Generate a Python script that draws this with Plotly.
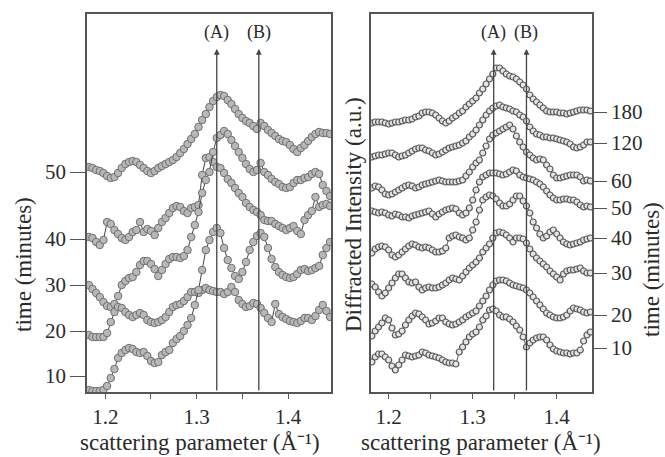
import plotly.graph_objects as go

# ---------------- data ----------------
# Left panel: scattering parameter grid (1/Å)
q_left = [round(1.182 + 0.004 * i, 3) for i in range(67)]
left_I50 = [22.5, 22.4, 22.2, 22.1, 21.9, 21.6, 21.4, 21.5, 21.9, 22.4, 22.8, 23.0, 23.1, 23.0, 22.7, 22.4, 22.1, 21.9, 22.1, 22.4,
            22.6, 22.8, 23.0, 23.2, 23.5, 23.9, 24.3, 24.8, 25.3, 25.8, 26.5, 27.2, 27.8, 28.5, 29.1, 29.5, 29.7, 29.6, 29.2, 28.8,
            28.3, 27.8, 27.4, 27.1, 26.9, 26.6, 26.3, 26.9, 26.6, 26.2, 25.9, 25.6, 25.3, 25.1, 25.0, 24.7, 24.3, 24.0, 24.4, 24.7,
            25.1, 25.5, 25.8, 26.0, 25.9, 25.9, 25.8]
left_I40 = [15.5, 15.4, 15.0, 14.7, 15.2, 17.0, 16.8, 16.2, 15.8, 15.4, 15.2, 15.5, 16.0, 16.2, 17.0, 16.0, 16.3, 16.1, 15.7, 16.4,
            17.0, 17.4, 17.9, 18.4, 18.6, 18.5, 18.1, 17.9, 18.4, 18.5, 18.7, 21.7, 23.4, 23.5, 23.0, 22.5, 22.4, 21.9, 21.3, 20.9,
            20.4, 19.9, 19.5, 18.9, 18.5, 18.2, 18.0, 17.7, 17.2, 17.1, 17.1, 16.8, 16.6, 16.4, 16.2, 16.4, 16.6, 16.1, 15.8, 17.2,
            17.7, 18.1, 19.5, 18.5, 18.7, 18.8, 18.6]
left_I30 = [10.7, 10.3, 9.9, 9.5, 9.0, 8.6, 8.5, 8.8, 9.6, 10.7, 11.1, 11.4, 11.5, 12.0, 12.7, 13.1, 13.1, 12.8, 12.3, 11.6,
            12.2, 12.8, 13.3, 13.5, 13.5, 13.4, 13.6, 14.2, 15.5, 16.7, 18.0, 19.9, 21.2, 22.0, 24.0, 25.4, 25.7, 26.1, 25.8, 25.2,
            24.6, 24.0, 23.4, 22.8, 22.3, 22.0, 22.2, 22.9, 22.0, 21.7, 21.3, 21.0, 20.8, 20.5, 20.4, 20.5, 20.9, 21.2, 21.2, 21.4,
            21.5, 21.8, 22.0, 21.8, 20.7, 20.1, 19.6]
left_I20 = [5.7, 5.5, 5.5, 5.5, 5.5, 5.9, 7.0, 8.0, 8.5, 8.4, 8.0, 7.7, 7.5, 7.7, 7.9, 7.7, 7.2, 7.0, 6.9, 7.0,
            7.2, 7.5, 8.0, 8.5, 8.7, 8.8, 9.1, 9.5, 10.0, 10.0, 9.9, 10.2, 10.4, 10.2, 10.1, 10.0, 10.0, 9.8, 10.0, 10.5,
            10.0, 9.2, 8.8, 8.5, 8.6, 8.9, 8.8, 8.4, 7.9, 7.4, 7.0, 8.8, 7.8, 7.5, 7.3, 7.1, 7.0, 6.9, 7.1, 7.4,
            7.4, 7.2, 7.6, 8.2, 8.7, 8.1, 7.5]
left_I10 = [0.2, 0.1, 0.1, 0.1, 0.2, 0.6, 1.4, 2.3, 3.4, 3.9, 4.2, 4.4, 4.3, 4.0, 3.9, 4.0, 3.6, 3.1, 2.9, 3.0,
            3.7, 4.0, 4.2, 4.9, 5.3, 5.6, 6.1, 6.7, 7.4, 8.7, 10.2, 12.2, 14.2, 15.2, 16.0, 16.4, 15.9, 14.4, 13.2, 12.4,
            11.6, 11.3, 12.0, 13.0, 14.2, 15.0, 15.6, 15.9, 15.5, 14.4, 13.3, 12.5, 12.0, 11.7, 11.5, 11.4, 11.5, 11.8, 12.2, 12.3,
            12.1, 12.2, 12.4, 12.6, 13.7, 14.4, 15.0]
left_tick_pos = [1.6, 6.1, 10.7, 15.3, 22.0]
left_tick_text = ["10", "20", "30", "40", "50"]
left_peaks = {"(A)": 1.322, "(B)": 1.368}

# Right panel
q_right = [round(1.180 + 0.004 * i, 3) for i in range(66)]
right_I180 = [26.9, 27.0, 27.0, 27.0, 26.9, 26.8, 26.9, 27.0, 27.0, 27.1, 27.2, 27.2, 27.3, 27.5, 27.6, 27.9, 28.0, 28.0, 27.9, 27.7,
              27.4, 27.1, 26.9, 27.1, 27.4, 27.6, 27.9, 28.1, 28.5, 28.8, 29.1, 29.4, 29.9, 30.3, 30.8, 31.3, 31.8, 32.4, 32.4, 32.1,
              31.8, 31.6, 31.5, 31.3, 31.0, 30.7, 30.3, 29.7, 29.3, 29.0, 28.7, 28.4, 28.1, 28.0, 28.0, 28.0, 27.9, 27.9, 27.8, 27.9,
              28.0, 28.1, 28.2, 28.2, 28.2, 28.1]
right_I120 = [23.5, 23.6, 23.7, 23.7, 23.8, 23.9, 23.9, 23.7, 23.5, 23.6, 23.7, 23.9, 24.1, 24.3, 24.4, 24.4, 24.2, 24.1, 23.9, 23.7,
              23.8, 24.0, 24.2, 24.4, 24.5, 24.6, 24.7, 24.9, 25.1, 25.5, 25.8, 26.2, 26.7, 27.2, 27.7, 28.1, 28.4, 28.6, 28.7, 28.5,
              28.4, 28.3, 28.1, 28.0, 27.7, 27.5, 27.1, 26.5, 26.1, 25.8, 25.7, 25.5, 25.5, 25.4, 25.4, 25.3, 25.2, 25.1, 25.0, 24.8,
              24.5, 24.4, 24.5, 24.7, 25.0, 25.0]
right_I60 = [20.4, 20.6, 20.5, 20.2, 19.8, 19.7, 19.8, 20.0, 20.2, 20.4, 20.6, 20.7, 20.6, 20.4, 20.5, 20.7, 20.8, 20.9, 21.0, 21.1,
             21.2, 21.1, 21.0, 21.0, 21.0, 21.0, 21.1, 21.2, 21.6, 22.0, 22.5, 22.9, 23.2, 23.9, 24.6, 25.3, 25.7, 25.9, 26.1, 26.3,
             26.5, 26.7, 26.3, 25.6, 25.0, 24.5, 24.0, 23.7, 23.4, 23.2, 23.3, 23.2, 22.7, 22.3, 21.7, 21.4, 21.4, 21.5, 21.6, 21.7,
             21.7, 21.7, 21.5, 21.1, 21.2, 21.1]
right_I50 = [18.1, 18.0, 17.9, 18.0, 17.9, 17.7, 17.6, 17.8, 17.7, 17.5, 17.5, 17.4, 17.6, 17.7, 17.8, 17.9, 18.0, 18.1, 17.8, 17.5,
             17.8, 18.0, 18.2, 18.3, 18.4, 18.3, 17.9, 17.7, 17.9, 18.4, 19.2, 20.2, 21.0, 21.5, 21.7, 21.9, 21.9, 21.9, 21.8, 21.7,
             21.8, 22.0, 22.2, 22.1, 21.7, 21.5, 21.4, 21.3, 21.2, 21.0, 20.8, 20.5, 20.1, 19.7, 19.4, 19.2, 19.2, 19.3, 19.3, 19.2,
             19.2, 19.0, 18.7, 18.5, 18.6, 18.5]
right_I40 = [13.9, 14.3, 14.5, 14.6, 14.5, 14.2, 13.7, 13.5, 13.7, 14.0, 14.3, 14.6, 14.8, 14.7, 14.5, 14.4, 14.5, 14.4, 14.2, 14.0,
             14.0, 14.1, 14.4, 15.4, 15.6, 15.7, 15.5, 15.4, 15.2, 15.4, 16.2, 17.0, 18.2, 19.2, 19.5, 19.7, 19.6, 19.3, 18.9, 18.6,
             18.6, 18.8, 19.2, 19.6, 19.6, 19.1, 18.6, 17.9, 17.0, 16.4, 15.8, 15.4, 15.6, 16.0, 16.2, 15.8, 15.4, 15.0, 14.8, 14.7,
             14.8, 14.9, 15.0, 15.2, 15.3, 15.4]
right_I30 = [10.8, 10.5, 10.0, 9.6, 9.9, 10.4, 10.9, 11.4, 11.8, 11.8, 11.4, 11.0, 10.9, 11.0, 10.5, 10.2, 10.4, 10.5, 10.4, 10.4,
             10.5, 10.7, 10.9, 11.2, 11.4, 11.3, 11.2, 11.6, 12.0, 12.4, 12.7, 13.0, 13.4, 14.0, 14.4, 14.8, 15.4, 15.9, 16.0, 15.9,
             15.7, 15.4, 15.0, 15.4, 15.4, 15.3, 14.9, 14.3, 13.8, 13.4, 13.1, 12.8, 12.5, 12.1, 11.8, 11.5, 11.2, 11.8, 12.1, 12.2,
             12.2, 12.3, 12.4, 12.1, 11.9, 11.9]
right_I20 = [5.6, 6.1, 6.5, 6.9, 7.4, 7.2, 6.4, 5.7, 5.8, 6.1, 6.7, 7.2, 7.6, 7.9, 7.8, 7.5, 7.2, 6.8, 6.9, 7.1,
             7.4, 7.4, 7.0, 6.8, 6.7, 6.8, 7.0, 7.2, 7.5, 7.7, 7.9, 8.1, 8.6, 9.1, 9.6, 10.2, 10.7, 11.1, 11.2, 11.2,
             11.1, 10.9, 10.7, 10.6, 10.5, 10.4, 10.2, 9.9, 9.5, 9.1, 8.7, 8.3, 7.9, 7.7, 7.5, 7.4, 7.4, 7.5, 7.7, 8.1,
             8.4, 8.3, 8.2, 8.0, 7.9, 8.0]
right_I10 = [3.0, 3.5, 3.8, 3.8, 3.5, 3.2, 2.6, 2.2, 2.7, 3.2, 3.7, 3.6, 3.5, 3.6, 3.7, 4.0, 3.9, 3.7, 3.6, 3.5,
             3.4, 3.2, 3.0, 2.9, 2.9, 2.8, 4.0, 4.5, 5.0, 5.5, 5.8, 6.0, 6.5, 7.2, 7.6, 8.2, 8.3, 8.1, 7.7, 7.5,
             7.5, 7.3, 7.0, 6.6, 6.2, 5.5, 4.5, 4.9, 5.2, 5.4, 5.5, 5.5, 5.2, 4.7, 4.3, 4.1, 4.0, 3.9, 3.9, 3.8,
             3.9, 3.9, 4.2, 5.1, 5.7, 6.0]
right_tick_pos = [4.4, 7.7, 11.9, 15.4, 18.4, 21.1, 24.9, 28.0]
right_tick_text = ["10", "20", "30", "40", "50", "60", "120", "180"]
right_peaks = {"(A)": 1.325, "(B)": 1.364}

Y_RANGE = [0, 37.8]
ARROW_TOP = 34.3
LABEL_Y = 35.9

# ---------------- figure ----------------
FONT = "Liberation Serif, Times New Roman, serif"
TXT = "#2a2a2a"
AX = "#555555"

fig = go.Figure()

for ys in [left_I50, left_I40, left_I30, left_I20, left_I10]:
    fig.add_trace(go.Scatter(
        x=q_left, y=ys, mode="lines+markers", xaxis="x", yaxis="y",
        line=dict(color="#444444", width=1),
        marker=dict(size=7.5, color="#b8b8b8", line=dict(color="#707070", width=1)),
        showlegend=False, hoverinfo="skip"))

for ys in [right_I180, right_I120, right_I60, right_I50, right_I40, right_I30, right_I20, right_I10]:
    fig.add_trace(go.Scatter(
        x=q_right, y=ys, mode="lines+markers", xaxis="x2", yaxis="y2",
        line=dict(color="#555555", width=1),
        marker=dict(size=6, color="#e4e4e4", line=dict(color="#555555", width=1.2)),
        showlegend=False, hoverinfo="skip"))

W, H = 665, 457
xdom_l = [87 / W, 331 / W]
xdom_r = [371 / W, 592 / W]
ydom = [(H - 392) / H, (H - 14) / H]

common_x = dict(showline=True, mirror=True, linecolor=AX, linewidth=1.5,
                tickvals=[1.2, 1.3, 1.4], ticktext=["1.2", "1.3", "1.4"],
                ticks="outside", ticklen=5, tickwidth=1.2, tickcolor=AX,
                minor=dict(tickvals=[1.25, 1.35], ticks="outside", ticklen=5, tickcolor=AX, tickwidth=1.2),
                showgrid=False, zeroline=False,
                tickfont=dict(family=FONT, size=21, color=TXT))

fig.update_layout(
    width=W, height=H, margin=dict(l=0, r=0, t=0, b=0),
    paper_bgcolor="white", plot_bgcolor="white",
    xaxis=dict(common_x, domain=xdom_l, range=[1.18, 1.447], anchor="y"),
    yaxis=dict(domain=ydom, range=Y_RANGE, anchor="x", showline=True, mirror=True,
               linecolor=AX, linewidth=1.5, tickvals=left_tick_pos, ticktext=left_tick_text,
               ticks="outside", ticklen=15, tickwidth=1.2, tickcolor=AX, showgrid=False, zeroline=False,
               tickfont=dict(family=FONT, size=21, color=TXT)),
    xaxis2=dict(common_x, domain=xdom_r, range=[1.179, 1.442], anchor="y2"),
    yaxis2=dict(domain=ydom, range=Y_RANGE, anchor="x2", side="right", showline=True, mirror=True,
                linecolor=AX, linewidth=1.5, tickvals=right_tick_pos, ticktext=right_tick_text,
                ticks="outside", ticklen=13, tickwidth=1.2, tickcolor=AX, showgrid=False, zeroline=False,
                tickfont=dict(family=FONT, size=21, color=TXT)),
)

ann = []
for (xr, yr, peaks) in [("x", "y", left_peaks), ("x2", "y2", right_peaks)]:
    for lab, q in peaks.items():
        ann.append(dict(x=q, y=ARROW_TOP, ax=q, ay=Y_RANGE[0], xref=xr, yref=yr, axref=xr, ayref=yr,
                        showarrow=True, arrowhead=2, arrowsize=0.9, arrowwidth=1.3, arrowcolor="#444444", text=""))
        ann.append(dict(x=q, y=LABEL_Y, xref=xr, yref=yr, text=lab, showarrow=False,
                        xanchor="center", yanchor="middle",
                        font=dict(family=FONT, size=18, color=TXT)))

title_font = dict(family=FONT, size=23, color=TXT)
titles = [
    (200, 442, 0, "scattering parameter (Å⁻¹)"),
    (481, 442, 0, "scattering parameter (Å⁻¹)"),
    (23, 265, -90, "time (minutes)"),
    (353, 215, -90, "Diffracted Intensity (a.u.)"),
    (651, 270, -90, "time (minutes)"),
]
for px, py, ang, t in titles:
    ann.append(dict(x=px / W, y=(H - py) / H, xref="paper", yref="paper", textangle=ang,
                    xanchor="center", yanchor="middle",
                    text=t, showarrow=False, font=title_font))
fig.update_layout(annotations=ann)

fig.write_html("out.html")
